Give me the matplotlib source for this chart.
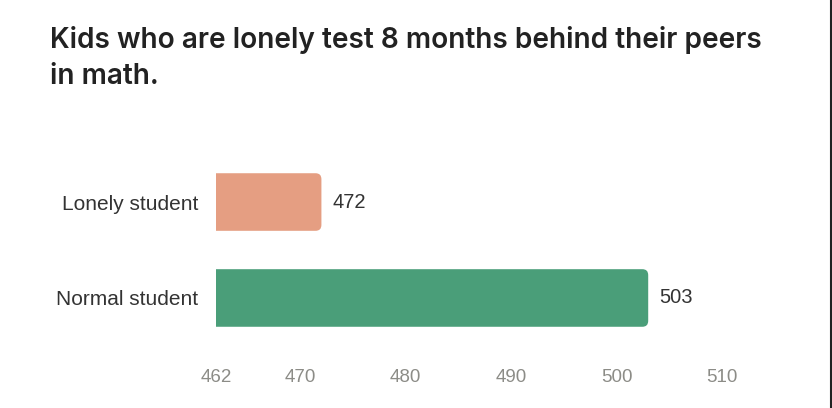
import matplotlib
matplotlib.use("Agg")
import matplotlib.pyplot as plt
from matplotlib.patches import FancyBboxPatch
from matplotlib.lines import Line2D

# data
categories = ["Normal student", "Lonely student"]
scores = [503, 472]
bar_colors = ["#4a9e79", "#e59e82"]
x_ticks = [462, 470, 480, 490, 500, 510]
title_lines = ["Kids who are lonely test 8 months behind their peers", "in math."]

plt.rcParams["font.family"] = ["Liberation Sans", "DejaVu Sans"]

fig = plt.figure(figsize=(8.32, 4.08), dpi=100)
ax = fig.add_axes([216 / 832, 1 - 345 / 408, 506 / 832, 190 / 408])

x0 = x_ticks[0]
bars = ax.barh(categories, [s - x0 for s in scores], left=x0, height=0.6,
               color=bar_colors)

ax.set_xlim(x_ticks[0], x_ticks[-1])
ax.set_ylim(-0.49, 1.49)

# rounded right corners: rounded box starts left of the axes and is clipped there
r = 0.55
aspect = 0.062 / r
for b, c in zip(bars, bar_colors):
    x, y, w, h = b.get_x(), b.get_y(), b.get_width(), b.get_height()
    b.set_visible(False)
    ax.add_patch(FancyBboxPatch((x - 2 * r, y), w + 2 * r, h,
                                boxstyle=f"round,pad=0,rounding_size={r}",
                                mutation_aspect=aspect, fc=c, ec="none", lw=0))
    ax.annotate(f"{x + w:.0f}", (x + w, y + h / 2), xytext=(8, 0),
                textcoords="offset points", va="center", ha="left",
                fontsize=14.5, color="#333333")

ax.set_xticks(x_ticks)
ax.set_xticklabels([str(t) for t in x_ticks])
ax.tick_params(axis="x", length=0, pad=17, labelsize=13.5, labelcolor="#8c8c87")
ax.tick_params(axis="y", length=0, pad=13, labelsize=15, labelcolor="#333333")
for s in ax.spines.values():
    s.set_visible(False)

for i, line in enumerate(title_lines):
    fig.text(50 / 832, 1 - (48 + 36 * i) / 408, line, ha="left", va="baseline",
             fontsize=20.2, color="#222222", family=["Inter", "DejaVu Sans"],
             fontweight="semibold")

fig.add_artist(Line2D([1 - 1 / 832, 1 - 1 / 832], [0, 1], color="#222222",
                      lw=1.5, transform=fig.transFigure))

fig.savefig("out.png", dpi=100)
